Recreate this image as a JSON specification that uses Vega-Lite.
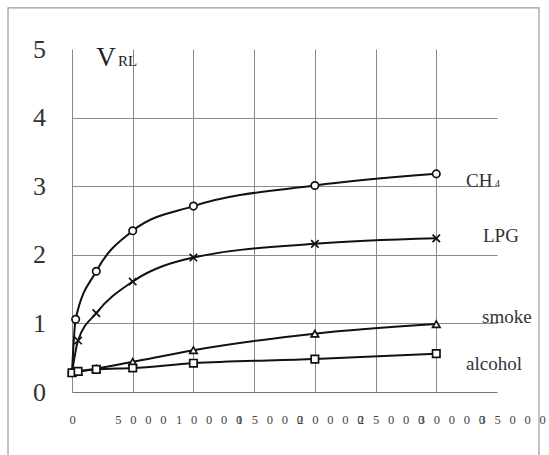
{
  "$schema": "https://vega.github.io/schema/vega-lite/v6.json",
  "width": 425,
  "height": 343,
  "autosize": {"type": "none"},
  "padding": {"left": 72, "top": 49, "right": 52, "bottom": 63},
  "background": "white",
  "config": {"view": {"stroke": null}},
  "datasets": {
    "series": [
      {"gas": "CH4", "ppm": 0, "v": 0.28},
      {"gas": "CH4", "ppm": 300, "v": 1.06},
      {"gas": "CH4", "ppm": 2000, "v": 1.76},
      {"gas": "CH4", "ppm": 5000, "v": 2.35},
      {"gas": "CH4", "ppm": 10000, "v": 2.71},
      {"gas": "CH4", "ppm": 20000, "v": 3.01},
      {"gas": "CH4", "ppm": 30000, "v": 3.18},
      {"gas": "LPG", "ppm": 0, "v": 0.28},
      {"gas": "LPG", "ppm": 500, "v": 0.75},
      {"gas": "LPG", "ppm": 2000, "v": 1.15},
      {"gas": "LPG", "ppm": 5000, "v": 1.61},
      {"gas": "LPG", "ppm": 10000, "v": 1.96},
      {"gas": "LPG", "ppm": 20000, "v": 2.16},
      {"gas": "LPG", "ppm": 30000, "v": 2.24},
      {"gas": "smoke", "ppm": 0, "v": 0.28},
      {"gas": "smoke", "ppm": 500, "v": 0.3},
      {"gas": "smoke", "ppm": 2000, "v": 0.34},
      {"gas": "smoke", "ppm": 5000, "v": 0.44},
      {"gas": "smoke", "ppm": 10000, "v": 0.61},
      {"gas": "smoke", "ppm": 20000, "v": 0.85},
      {"gas": "smoke", "ppm": 30000, "v": 0.99},
      {"gas": "alcohol", "ppm": 0, "v": 0.28},
      {"gas": "alcohol", "ppm": 500, "v": 0.3},
      {"gas": "alcohol", "ppm": 2000, "v": 0.33},
      {"gas": "alcohol", "ppm": 5000, "v": 0.35},
      {"gas": "alcohol", "ppm": 10000, "v": 0.42},
      {"gas": "alcohol", "ppm": 20000, "v": 0.48},
      {"gas": "alcohol", "ppm": 30000, "v": 0.56}
    ],
    "labels": [
      {"text": "CH", "ppm": 32450, "v": 2.99},
      {"text": "LPG", "ppm": 33846, "v": 2.18},
      {"text": "smoke", "ppm": 33764, "v": 1.01},
      {"text": "alcohol", "ppm": 32446, "v": 0.32}
    ],
    "subs": [
      {"text": "4", "ppm": 34834, "v": 2.99},
      {"text": "RL", "ppm": 3788, "v": 4.75}
    ],
    "ytitle": [
      {"text": "V", "ppm": 2800, "v": 4.75}
    ],
    "frame": [
      {"x1": -5270, "x2": 38457, "y1": 5.6, "y2": -1.5}
    ]
  },
  "layer": [
    {
      "data": {"name": "series"},
      "mark": {"type": "line", "color": "#111", "strokeWidth": 2, "interpolate": "monotone", "clip": false},
      "encoding": {
        "x": {"field": "ppm", "type": "quantitative", "scale": {"domain": [0, 35000], "nice": false, "zero": false},
          "axis": {
            "values": [0, 5000, 10000, 15000, 20000, 25000, 30000, 35000],
            "title": null,
            "grid": true,
            "gridColor": {"condition": {"test": "datum.value == 35000", "value": "transparent"}, "value": "#8a8a8a"},
            "gridWidth": 1,
            "domain": true,
            "domainColor": "#777",
            "domainWidth": 1.2,
            "ticks": false,
            "tickSize": 0,
            "labelPadding": 21,
            "labelFont": "Liberation Serif",
            "labelFontSize": 12.5,
            "labelColor": "#444",
            "labelAlign": "left",
            "labelOffset": {"condition": {"test": "datum.value == 0", "value": -3}, "value": -18},
            "labelOverlap": false,
            "labelBound": false,
            "labelFlush": false,
            "labelExpr": "datum.value == 0 ? '0' : join(split(toString(datum.value), ''), '\u2002\u2009')"
          }
        },
        "y": {"field": "v", "type": "quantitative", "scale": {"domain": [0, 5], "nice": false, "zero": false},
          "axis": {
            "values": [0, 1, 2, 3, 4, 5],
            "format": "d",
            "title": null,
            "grid": true,
            "gridColor": {"condition": {"test": "datum.value == 5 || datum.value == 0", "value": "transparent"}, "value": "#8a8a8a"},
            "gridWidth": 1,
            "domain": false,
            "ticks": false,
            "tickSize": 0,
            "labelPadding": 33,
            "labelFont": "Liberation Serif",
            "labelFontSize": 26,
            "labelColor": "#333",
            "labelAlign": "center",
            "labelBaseline": "middle",
            "labelDy": 4,
            "labelFlush": false,
            "labelOverlap": false,
            "labelBound": false
          }
        },
        "detail": {"field": "gas"}
      }
    },
    {
      "data": {"name": "series"},
      "mark": {"type": "point", "filled": true, "fill": "white", "stroke": "#111", "strokeWidth": 1.7, "size": 55, "opacity": 1},
      "encoding": {
        "x": {"field": "ppm", "type": "quantitative"},
        "y": {"field": "v", "type": "quantitative"},
        "shape": {"field": "gas", "type": "nominal", "legend": null,
          "scale": {"domain": ["CH4", "LPG", "smoke", "alcohol"],
            "range": ["circle", "M-1,-1L1,1M-1,1L1,-1", "triangle-up", "square"]}}
      }
    },
    {
      "data": {"name": "labels"},
      "mark": {"type": "text", "font": "Liberation Serif", "fontSize": 19, "color": "#333", "align": "left", "baseline": "alphabetic", "clip": false},
      "encoding": {
        "x": {"field": "ppm", "type": "quantitative"},
        "y": {"field": "v", "type": "quantitative"},
        "text": {"field": "text"}
      }
    },
    {
      "data": {"name": "subs"},
      "transform": [{"filter": "datum.text == '4'"}],
      "mark": {"type": "text", "font": "Liberation Serif", "fontSize": 10, "color": "#333", "align": "left", "baseline": "alphabetic", "clip": false},
      "encoding": {
        "x": {"field": "ppm", "type": "quantitative"},
        "y": {"field": "v", "type": "quantitative"},
        "text": {"field": "text"}
      }
    },
    {
      "data": {"name": "subs"},
      "transform": [{"filter": "datum.text == 'RL'"}],
      "mark": {"type": "text", "font": "Liberation Serif", "fontSize": 15, "color": "#222", "align": "left", "baseline": "alphabetic", "clip": false},
      "encoding": {
        "x": {"field": "ppm", "type": "quantitative"},
        "y": {"field": "v", "type": "quantitative"},
        "text": {"field": "text"}
      }
    },
    {
      "data": {"name": "ytitle"},
      "mark": {"type": "text", "font": "Liberation Serif", "fontSize": 27, "color": "#222", "align": "center", "baseline": "alphabetic"},
      "encoding": {
        "x": {"field": "ppm", "type": "quantitative"},
        "y": {"field": "v", "type": "quantitative"},
        "text": {"field": "text"}
      }
    },
    {
      "data": {"name": "frame"},
      "mark": {"type": "rect", "filled": false, "color": "#9a9a9a", "strokeWidth": 1.2, "clip": false},
      "encoding": {
        "x": {"field": "x1", "type": "quantitative"},
        "x2": {"field": "x2"},
        "y": {"field": "y1", "type": "quantitative"},
        "y2": {"field": "y2"}
      }
    }
  ]
}
